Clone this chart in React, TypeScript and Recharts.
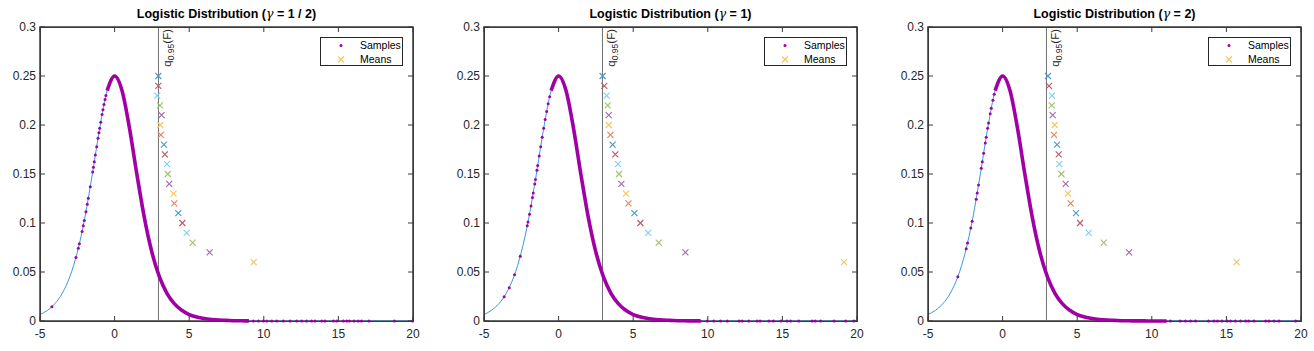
import React from 'react';
import { ComposedChart, Line, Scatter, XAxis, YAxis, ReferenceLine, ReferenceArea, Cell } from 'recharts';

// logistic pdf (same curve in every panel)
const curveX = [-5, -4.5, -4, -3.5, -3, -2.5, -2, -1.5, -1, -0.5, 0, 0.5, 1, 1.5, 2, 2.5, 3, 3.5, 4, 4.5, 5, 5.5, 6, 6.5, 7, 7.5, 8, 8.5, 9, 9.5, 10, 11, 12, 15, 20];
const curveY = [0.0066, 0.0109, 0.0177, 0.0285, 0.0452, 0.0701, 0.105, 0.1491, 0.1966, 0.235, 0.25, 0.235, 0.1966, 0.1491, 0.105, 0.0701, 0.0452, 0.0285, 0.0177, 0.0109, 0.0066, 0.0041, 0.0025, 0.0015, 0.0009, 0.0006, 0.0003, 0.0002, 0.0001, 0.0001, 0, 0, 0, 0, 0];

const quantile = 2.94;
const xTicks = [-5, 0, 5, 10, 15, 20];
const yTicks = [0, 0.05, 0.1, 0.15, 0.2, 0.25, 0.3];

const meanLevels = [0.25, 0.24, 0.23, 0.22, 0.21, 0.2, 0.19, 0.18, 0.17, 0.16, 0.15, 0.14, 0.13, 0.12, 0.11, 0.1, 0.09, 0.08, 0.07, 0.06];
const meanColors = ['#4d9cd1', '#be5b6d', '#82d1f3', '#a0c46e', '#a46db0', '#f2c863', '#e4875e'];

// gamma = 1/2
const meansHalf = [2.93, 2.93, 2.86, 3.04, 3.15, 3.06, 3.1, 3.31, 3.37, 3.51, 3.57, 3.66, 3.95, 4.0, 4.27, 4.54, 4.83, 5.23, 6.37, 9.32];
const leftXHalf = [-4.2, -2.59, -2.43, -2.36, -2.18, -2.1, -2.03, -1.92, -1.83, -1.76, -1.63, -1.47, -1.42, -1.36, -1.29, -1.2, -1.11, -1.05, -1.0, -0.93, -0.84, -0.78, -0.71, -0.64, -0.58];
const leftYHalf = [0.0146, 0.0649, 0.0743, 0.0788, 0.0912, 0.0972, 0.1026, 0.1115, 0.1191, 0.1252, 0.137, 0.152, 0.1568, 0.1625, 0.1693, 0.1779, 0.1864, 0.192, 0.1966, 0.2029, 0.2106, 0.2155, 0.221, 0.226, 0.2301];
const tailXHalf = [9.3, 9.64, 9.97, 10.2, 10.53, 10.87, 11.31, 11.76, 12.2, 12.54, 12.87, 13.2, 13.43, 13.88, 14.1, 14.66, 14.9, 15.33, 15.56, 15.74, 16.05, 16.33, 16.55, 17.05, 18.75, 19.97];

// gamma = 1
const meansOne = [2.95, 3.06, 3.22, 3.29, 3.36, 3.36, 3.47, 3.62, 3.8, 3.98, 4.05, 4.21, 4.52, 4.68, 5.08, 5.48, 6.0, 6.71, 8.5, 19.13];
const leftXOne = [-3.65, -3.31, -2.95, -2.57, -2.1, -2.05, -1.95, -1.85, -1.75, -1.7, -1.6, -1.55, -1.45, -1.4, -1.3, -1.2, -1.1, -1.0, -0.9, -0.8, -0.7, -0.6];
const leftYOne = [0.0247, 0.034, 0.0472, 0.066, 0.0972, 0.101, 0.109, 0.1174, 0.1261, 0.1306, 0.1398, 0.1444, 0.1539, 0.1587, 0.1683, 0.1779, 0.1874, 0.1966, 0.2055, 0.2139, 0.2217, 0.2288];
const tailXOne = [9.5, 9.96, 10.4, 10.85, 11.3, 12.1, 12.3, 12.75, 13.3, 13.5, 14.1, 14.4, 14.9, 15.3, 15.55, 16.1, 17.0, 17.2, 17.56, 18.46, 19.24, 19.8];

// gamma = 2
const meansTwo = [3.04, 3.11, 3.31, 3.29, 3.36, 3.49, 3.45, 3.65, 3.76, 3.8, 3.94, 4.23, 4.38, 4.56, 4.92, 5.19, 5.77, 6.78, 8.48, 15.68];
const leftXTwo = [-3.0, -2.44, -2.35, -2.13, -2.04, -1.77, -1.7, -1.61, -1.43, -1.36, -1.27, -1.16, -1.1, -1.0, -0.94, -0.83, -0.76, -0.65, -0.56];
const leftYTwo = [0.0452, 0.0738, 0.0795, 0.0949, 0.1018, 0.1243, 0.1306, 0.1388, 0.1558, 0.1625, 0.1712, 0.1817, 0.1874, 0.1966, 0.202, 0.2114, 0.2171, 0.2253, 0.2314];
const tailXTwo = [11.25, 11.9, 12.26, 12.6, 12.93, 13.8, 14.16, 14.4, 14.7, 15.06, 15.28, 15.6, 15.95, 16.29, 16.5, 16.85, 17.63, 17.85, 18.19, 18.52, 19.64];

const FONT = '"Liberation Sans", Arial, Helvetica, sans-serif';
const PURPLE = '#a000a6';
const AXIS = '#3a3a3a';

// plot box inside each chart (px)
const PLOT_LEFT = 40;
const PLOT_W = 373;
const PLOT_TOP = 27;
const PLOT_BOTTOM = 321;
const TICK = 5;

const curve = curveX.map((x, i) => ({ x, y: curveY[i] }));

const Cross = (props: any) => {
  const { cx, cy, fill } = props;
  const s = 3;
  return (
    <path
      d={`M${cx - s},${cy - s}L${cx + s},${cy + s}M${cx - s},${cy + s}L${cx + s},${cy - s}`}
      stroke={fill}
      strokeWidth={1.2}
      fill="none"
    />
  );
};

const Dot = (props: any) => <circle cx={props.cx} cy={props.cy} r={1.5} fill={PURPLE} />;

// bottom labels + inward ticks on bottom and top edges
const XTick = (props: any) => {
  const { x, y, payload } = props;
  return (
    <g>
      <line x1={x} x2={x} y1={PLOT_BOTTOM} y2={PLOT_BOTTOM - TICK} stroke={AXIS} strokeWidth={1} />
      <line x1={x} x2={x} y1={PLOT_TOP} y2={PLOT_TOP + TICK} stroke={AXIS} strokeWidth={1} />
      <text x={x} y={y} dy="0.71em" textAnchor="middle" fontSize={12} fill="#262626" fontFamily={FONT}>
        {payload.value}
      </text>
    </g>
  );
};

// left labels + inward ticks on left and right edges
const YTick = (props: any) => {
  const { x, y, payload } = props;
  return (
    <g>
      <line x1={PLOT_LEFT} x2={PLOT_LEFT + TICK} y1={y} y2={y} stroke={AXIS} strokeWidth={1} />
      <line x1={PLOT_LEFT + PLOT_W} x2={PLOT_LEFT + PLOT_W - TICK} y1={y} y2={y} stroke={AXIS} strokeWidth={1} />
      <text x={x} y={y} dy="0.355em" textAnchor="end" fontSize={12} fill="#262626" fontFamily={FONT}>
        {payload.value}
      </text>
    </g>
  );
};

const QuantileLabel = (props: any) => {
  const { viewBox } = props;
  const x = viewBox.x + 13;
  const y = viewBox.y + 2;
  return (
    <text transform={`translate(${x},${y}) rotate(-90)`} textAnchor="end" fontSize={11.5} fill="#262626" fontFamily={FONT}>
      q<tspan dy={3} fontSize={8.5}>0.95</tspan>
      <tspan dy={-3}>(F)</tspan>
    </text>
  );
};

interface PanelProps {
  title: React.ReactNode;
  width: number;
  means: number[];
  leftX: number[];
  leftY: number[];
  tailX: number[];
  bandEnd: number;
}

const Panel = ({ title, width, means, leftX, leftY, tailX, bandEnd }: PanelProps) => {
  const band = curve.filter((d) => d.x >= -0.5 && d.x <= bandEnd);
  const samples = [
    ...leftX.map((x, i) => ({ x, y: leftY[i] })),
    ...tailX.map((x) => ({ x, y: 0 })),
  ];
  const meanPts = means.map((x, i) => ({ x, y: meanLevels[i] }));

  return (
    <div style={{ position: 'relative', width, height: 351, flex: 'none' }}>
      <ComposedChart
        width={width}
        height={351}
        margin={{ top: PLOT_TOP, right: width - PLOT_LEFT - PLOT_W, bottom: 0, left: 0 }}
      >
        <XAxis
          type="number" dataKey="x" domain={[-5, 20]} ticks={xTicks}
          height={351 - PLOT_BOTTOM} tickSize={0} tickMargin={8} axisLine={false} tickLine={false}
          tick={<XTick />}
        />
        <YAxis
          type="number" domain={[0, 0.3]} ticks={yTicks} width={PLOT_LEFT}
          tickSize={0} tickMargin={4} axisLine={false} tickLine={false} tick={<YTick />}
        />
        <ReferenceArea x1={-5} x2={20} y1={0} y2={0.3} fill="none" stroke={AXIS} strokeWidth={1.5} ifOverflow="visible" />
        <ReferenceLine x={quantile} stroke="#707070" strokeWidth={1} label={<QuantileLabel />} />
        <Line data={curve} dataKey="y" type="monotone" stroke="#3d97d8" strokeWidth={1} dot={false} isAnimationActive={false} />
        <Line data={band} dataKey="y" type="monotone" stroke={PURPLE} strokeWidth={3.6} dot={false} isAnimationActive={false} />
        <Scatter data={samples} dataKey="y" shape={<Dot />} isAnimationActive={false} />
        <Scatter data={meanPts} dataKey="y" shape={<Cross />} isAnimationActive={false}>
          {meanPts.map((_, i) => (
            <Cell key={i} fill={meanColors[i % meanColors.length]} />
          ))}
        </Scatter>
      </ComposedChart>
      <div
        style={{
          position: 'absolute', left: PLOT_LEFT, top: PLOT_TOP, width: PLOT_W + 1, height: PLOT_BOTTOM - PLOT_TOP + 1,
          boxSizing: 'border-box', border: `1px solid ${AXIS}`, pointerEvents: 'none', zIndex: 5,
        }}
      />
      <div
        style={{
          position: 'absolute', left: PLOT_LEFT, top: 7, width: PLOT_W, textAlign: 'center', zIndex: 6,
          fontFamily: FONT, fontWeight: 'bold', fontSize: 12.5, lineHeight: '14px', color: '#000',
        }}
      >
        {title}
      </div>
      <div
        style={{
          position: 'absolute', left: PLOT_LEFT + PLOT_W - 10 - 83, top: 37, width: 81, height: 27, zIndex: 6,
          border: '1px solid #262626', background: '#fff', fontFamily: FONT, fontSize: 10.5, color: '#000',
        }}
      >
        <svg width={20} height={27} style={{ position: 'absolute', left: 10, top: 0 }}>
          <circle cx={10} cy={7.5} r={1.5} fill={PURPLE} />
          <path d="M7,18.5L13,24.5M7,24.5L13,18.5" stroke="#f2c863" strokeWidth={1.2} />
        </svg>
        <div style={{ position: 'absolute', left: 39, top: 1, lineHeight: '13px' }}>Samples</div>
        <div style={{ position: 'absolute', left: 39, top: 15, lineHeight: '13px' }}>Means</div>
      </div>
    </div>
  );
};

const Gamma = () => <span style={{ fontStyle: 'italic', fontWeight: 'normal', fontFamily: '"DejaVu Serif", serif' }}>γ</span>;

export default function App() {
  return (
    <div style={{ position: 'absolute', left: 0, top: 0, width: 1314, height: 351, display: 'flex', background: '#fff' }}>
      <Panel
        title={<>Logistic Distribution (<Gamma /> = 1 / 2)</>}
        width={444}
        means={meansHalf} leftX={leftXHalf} leftY={leftYHalf} tailX={tailXHalf} bandEnd={9}
      />
      <Panel
        title={<>Logistic Distribution (<Gamma /> = 1)</>}
        width={444}
        means={meansOne} leftX={leftXOne} leftY={leftYOne} tailX={tailXOne} bandEnd={9.5}
      />
      <Panel
        title={<>Logistic Distribution (<Gamma /> = 2)</>}
        width={426}
        means={meansTwo} leftX={leftXTwo} leftY={leftYTwo} tailX={tailXTwo} bandEnd={11}
      />
    </div>
  );
}
